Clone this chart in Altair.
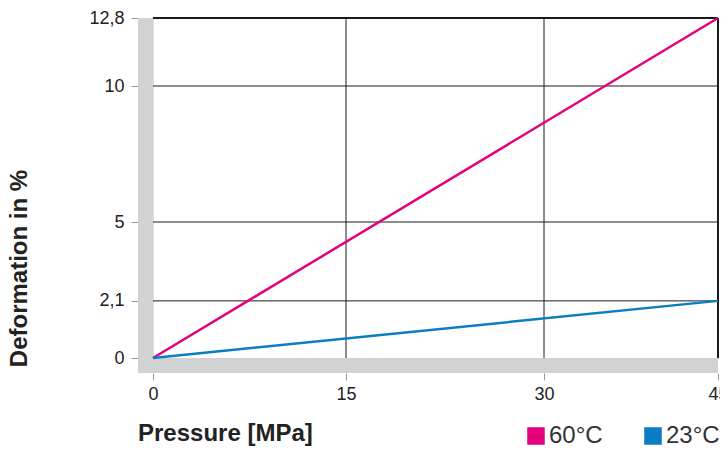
import altair as alt
import pandas as pd

# ---- data ----
pressure = [0, 45]
deform_60 = [0.0, 12.8]
deform_23 = [0.0, 2.1]
series = ["60°C", "23°C"]
colors = ["#e5007d", "#0a7dc3"]
x_ticks = [0, 15, 30, 45]
y_ticks = [0, 2.1, 5, 10, 12.8]
x_grid = [15, 30]
y_grid = [2.1, 5, 10]
x_border = [45]
y_border = [12.8]

W, H = 565, 340
FONT = "Liberation Sans"
GRAY = "#d1d2d4"

df = pd.DataFrame({
    "pressure": pressure * 2,
    "deformation": deform_60 + deform_23,
    "series": [series[0]] * 2 + [series[1]] * 2,
})

# the reference's axes are not evenly spaced: piecewise linear scales
xscale = alt.Scale(domain=[0, 15, 30, 45], range=[0, 193, 391, W], nice=False, zero=False)
yscale = alt.Scale(domain=[0, 10, 12.8], range=[H, 68, 0], nice=False, zero=False)

LABEL_EXPR = "replace(format(datum.value, '.4~g'), '.', ',')"

xaxis = alt.Axis(values=x_ticks, title="Pressure [MPa]", offset=15, tickSize=7,
                 tickColor="#9a9a9a", labelPadding=5, labelFontSize=18,
                 labelColor="#222222", labelFont=FONT, labelFlush=False,
                 labelOverlap=False, grid=False, domain=False, labelExpr=LABEL_EXPR,
                 titleFont=FONT, titleFontSize=24, titleFontWeight="bold",
                 titleColor="#222222", titleX=-15.5, titleY=67,
                 titleAlign="left", titleBaseline="alphabetic")
yaxis = alt.Axis(values=y_ticks, title="Deformation in %", offset=15, tickSize=7,
                 tickColor="#9a9a9a", labelPadding=7, labelFontSize=18,
                 labelColor="#222222", labelFont=FONT, labelFlush=False,
                 labelOverlap=False, grid=False, domain=False, labelExpr=LABEL_EXPR,
                 titleFont=FONT, titleFontSize=24, titleFontWeight="bold",
                 titleColor="#222222", titleAngle=270, titleX=-112, titleY=250,
                 titleAlign="center", titleBaseline="alphabetic")

ygrid = alt.Chart(pd.DataFrame({"g": y_grid})).mark_rule(color="#1a1a1a", strokeWidth=1).encode(
    y=alt.Y("g:Q", scale=yscale, axis=yaxis))
xgrid = alt.Chart(pd.DataFrame({"g": x_grid})).mark_rule(color="#1a1a1a", strokeWidth=1).encode(
    x=alt.X("g:Q", scale=xscale, axis=xaxis))
yborder = alt.Chart(pd.DataFrame({"g": y_border})).mark_rule(color="#1a1a1a", strokeWidth=2).encode(
    y=alt.Y("g:Q", scale=yscale, axis=yaxis))
xborder = alt.Chart(pd.DataFrame({"g": x_border})).mark_rule(color="#1a1a1a", strokeWidth=2).encode(
    x=alt.X("g:Q", scale=xscale, axis=xaxis))

one = alt.Data(values=[{}])
left_bar = alt.Chart(one).mark_rect(color=GRAY).encode(
    x=alt.value(-15), x2=alt.value(0), y=alt.value(0), y2=alt.value(H + 15))
bottom_bar = alt.Chart(one).mark_rect(color=GRAY).encode(
    x=alt.value(-15), x2=alt.value(W), y=alt.value(H), y2=alt.value(H + 15))

lines = alt.Chart(df).mark_line(strokeWidth=2.5).encode(
    x=alt.X("pressure:Q", scale=xscale, axis=xaxis),
    y=alt.Y("deformation:Q", scale=yscale, axis=yaxis),
    color=alt.Color("series:N",
                    scale=alt.Scale(domain=series, range=colors),
                    legend=alt.Legend(orient="none", legendX=371, legendY=406,
                                      direction="horizontal", title=None,
                                      symbolType="square", symbolSize=16,
                                      symbolStrokeWidth=13.5, labelFont=FONT,
                                      labelFontSize=24, labelColor="#333333",
                                      labelOffset=1, columnPadding=21, padding=0)),
    detail="series:N",
)

chart = alt.layer(ygrid, xgrid, yborder, xborder, left_bar, bottom_bar, lines).properties(
    width=W, height=H,
    autosize=alt.AutoSizeParams(type="none"),
    padding={"left": 145, "top": 10, "right": 2, "bottom": 89},
).configure_view(stroke=None).configure(font=FONT)

chart.save("out.html", embed_options={"renderer": "svg", "actions": False})
